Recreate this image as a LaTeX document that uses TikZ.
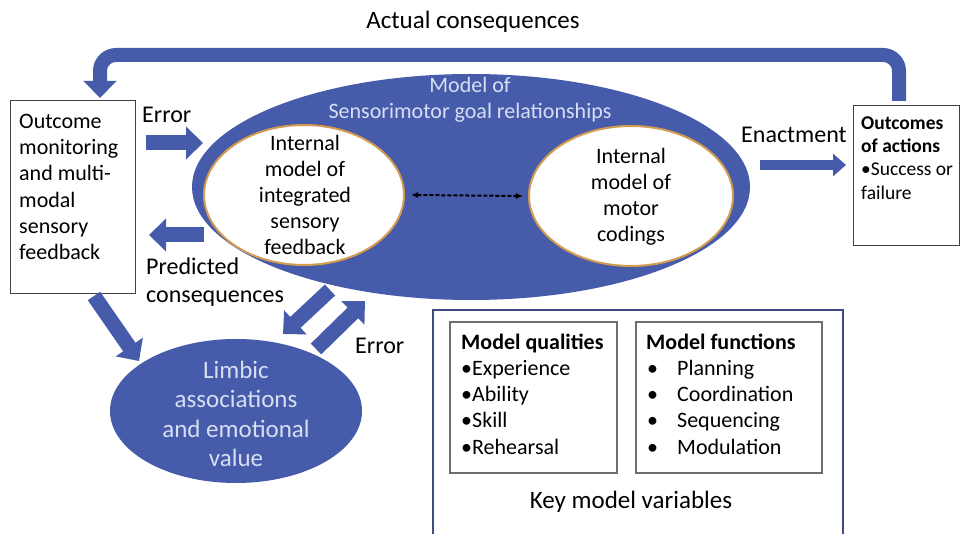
\documentclass[tikz,border=0pt]{standalone}
\usepackage{fontspec}
\setmainfont{Carlito}
\usetikzlibrary{arrows.meta,shapes.geometric}
\definecolor{blu}{RGB}{70,92,170}
\definecolor{lightt}{RGB}{214,222,244}
\definecolor{gold}{RGB}{210,155,80}
\definecolor{navy}{RGB}{62,74,128}
\definecolor{boxgray}{RGB}{110,110,110}
\begin{document}
\begin{tikzpicture}[x=1pt,y=-1pt,
  bigarrow/.style={draw=blu, line width=15pt, -{Triangle[width=32pt,length=17pt]}},
  midarrow/.style={draw=blu, line width=10pt, -{Triangle[width=22pt,length=13pt]}},
  txt/.style={inner sep=0pt, align=center, font=\fontsize{22}{26}\selectfont},
  ltxt/.style={inner sep=0pt, align=left, font=\fontsize{22}{26.3}\selectfont},
  blobfill/.style={ellipse, fill=blu, inner sep=0pt},
  innerell/.style={ellipse, fill=white, draw=gold, line width=2pt, inner sep=0pt},
  plainbox/.style={draw=black!75, line width=1pt, inner sep=0pt},
  graybox/.style={draw=boxgray, line width=1.2pt, inner sep=0pt}
]
\clip (0,0) rectangle (962,534);
\fill[white] (0,0) rectangle (962,534);

% title
\node[txt, font=\fontsize{25}{26}\selectfont] (actual) at (473,22) {Actual consequences};

% left box
\node[plainbox, minimum width=125pt, minimum height=193pt] (lbox) at (72.5,197.5) {};
\node[ltxt, anchor=west] (ltext) at (19,187) {Outcome\\monitoring\\and multi-\\modal\\sensory\\feedback};

% right box
\node[plainbox, minimum width=106pt, minimum height=140pt] (rbox) at (906,176) {};
\node[ltxt, anchor=west, font=\fontsize{19.5}{23.3}\selectfont] (rtext) at (861,158)
  {\textbf{Outcomes}\\\textbf{of actions}\\\textbullet Success or\\failure};

% top arrow
\coordinate (topS) at (899,101);
\coordinate (topE) at (100,98);
\draw[bigarrow, line width=14pt, rounded corners=16pt] (topS) -- (899,55) -- (100,55) -- (topE);

% big ellipse
\node[blobfill, minimum width=558pt, minimum height=226pt] (big) at (471,187) {};
\node[txt, text=lightt, font=\fontsize{22}{26}\selectfont] (bigtitle) at (470,100) {Model of\\Sensorimotor goal relationships};

% inner ellipses
\node[innerell, minimum width=200pt, minimum height=140pt] (inl) at (304,195) {};
\node[txt] (inltext) at (305,195) {Internal\\model of\\integrated\\sensory\\feedback};
\node[innerell, minimum width=204pt, minimum height=140pt] (inr) at (631,196) {};
\node[txt] (inrtext) at (631,197) {Internal\\model of\\motor\\codings};

\draw[dash pattern=on 4pt off 2pt, line width=2pt, {Latex[length=7pt,width=6pt]}-{Latex[length=7pt,width=6pt]}]
  ([xshift=6pt]inl.east) -- ([xshift=-5pt]inr.west);

% limbic
\node[blobfill, minimum width=252pt, minimum height=144pt] (limbic) at (236,411) {};
\node[txt, text=lightt, font=\fontsize{25}{29.5}\selectfont] (limbictext) at (236,414) {Limbic\\associations\\and emotional\\value};

% error / predicted arrows
\coordinate (errS) at (146,143);
\coordinate (errE) at (203,143);
\draw[bigarrow] (errS) -- (errE);
\node[txt, anchor=west, font=\fontsize{24}{26}\selectfont] (errlab) at (142,115) {Error};

\coordinate (predS) at (204,235);
\coordinate (predE) at (149,235);
\draw[bigarrow] (predS) -- (predE);
\node[ltxt, anchor=west, font=\fontsize{24}{28.5}\selectfont] (predlab) at (146,282) {Predicted\\consequences};

% enactment
\coordinate (enS) at (760,165);
\coordinate (enE) at (846,165);
\draw[midarrow] (enS) -- (enE);
\node[txt, anchor=west, font=\fontsize{24}{26}\selectfont] (enlab) at (741,135) {Enactment};

% diagonal arrows
\coordinate (d1S) at (94,296);
\coordinate (d1E) at (139,361);
\draw[bigarrow] (d1S) -- (d1E);

\coordinate (d2S) at (330,290);
\coordinate (d2E) at (283,334);
\draw[bigarrow] (d2S) -- (d2E);

\coordinate (d3S) at (316,349);
\coordinate (d3E) at (365,301);
\draw[bigarrow] (d3S) -- (d3E);
\node[txt, anchor=west, font=\fontsize{24}{26}\selectfont] (err2lab) at (355,346) {Error};

% key model variables
\node[draw=navy, line width=2pt, minimum width=410pt, minimum height=240pt, inner sep=0pt] (keybox) at (638,430) {};
\node[graybox, minimum width=167pt, minimum height=151pt] (qbox) at (533.5,397.5) {};
\node[graybox, minimum width=186pt, minimum height=151pt] (fbox) at (729,397.5) {};
\node[ltxt, anchor=west] (qtext) at (461,394)
  {\textbf{Model qualities}\\\textbullet Experience\\\textbullet Ability\\\textbullet Skill\\\textbullet Rehearsal};
\node[ltxt, anchor=west] (ftext) at (646,394)
  {\textbf{Model functions}\\\makebox[31pt][l]{\hspace{1pt}\textbullet}Planning\\\makebox[31pt][l]{\hspace{1pt}\textbullet}Coordination\\\makebox[31pt][l]{\hspace{1pt}\textbullet}Sequencing\\\makebox[31pt][l]{\hspace{1pt}\textbullet}Modulation};
\node[txt, font=\fontsize{25}{26}\selectfont] (keylab) at (631,502) {Key model variables};
\end{tikzpicture}
\end{document}
